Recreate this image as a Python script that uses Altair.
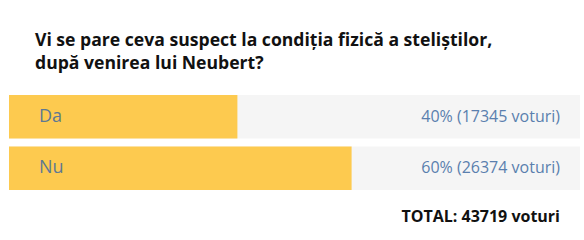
import altair as alt
import pandas as pd

title_lines = ["Vi se pare ceva suspect la condiția fizică a steliștilor,", "după venirea lui Neubert?"]
options = ["Da", "Nu"]
percents = [40, 60]
votes = [17345, 26374]
total_votes = 43719

df = pd.DataFrame({
    "option": options,
    "pct": percents,
    "votes": votes,
    "full": [100, 100],
})
df["label"] = [f"{p}% ({v} voturi)" for p, v in zip(percents, votes)]

FONT = "Open Sans"
x_scale = alt.Scale(domain=[0, 100], range=[9, 580])
y_scale = alt.Scale(domain=options, range=[5, 100], paddingInner=0.155, paddingOuter=0)
y_enc = alt.Y("option:N", scale=y_scale, axis=None)

track = alt.Chart(df).mark_bar(color="#f5f5f5", cornerRadius=0).encode(
    x=alt.X("full:Q", scale=x_scale, axis=None), y=y_enc
)
bars = alt.Chart(df).mark_bar(color="#fdca4f").encode(
    x=alt.X("pct:Q", scale=x_scale, axis=None), y=y_enc
)
names = alt.Chart(df).mark_text(
    align="left", baseline="middle", font=FONT, fontSize=18, color="#5d7893"
).encode(x=alt.value(39), y=y_enc, text="option:N")
values = alt.Chart(df).mark_text(
    align="right", baseline="middle", font=FONT, fontSize=16, color="#5a7fae"
).encode(x=alt.value(560), y=y_enc, text="label:N")
total = alt.Chart(pd.DataFrame({"t": [f"TOTAL: {total_votes} voturi"]})).mark_text(
    align="right", baseline="middle", font=FONT, fontSize=16, fontWeight="bold", color="#111111"
).encode(x=alt.value(560), y=alt.value(127), text="t:N")

chart = alt.layer(track, bars, names, values, total).properties(
    width=584,
    height=150,
    padding={"left": 0, "top": 90, "right": 0, "bottom": 0},
    autosize=alt.AutoSizeParams(type="none"),
    background="white",
    title=alt.Title(
        text=title_lines, anchor="start", font=FONT, fontSize=17.6, fontWeight="bold",
        color="#111111", dx=35, offset=17, lineHeight=23
    ),
).configure_view(stroke=None)

chart.save("out.html", embed_options={"renderer": "svg", "actions": False})
